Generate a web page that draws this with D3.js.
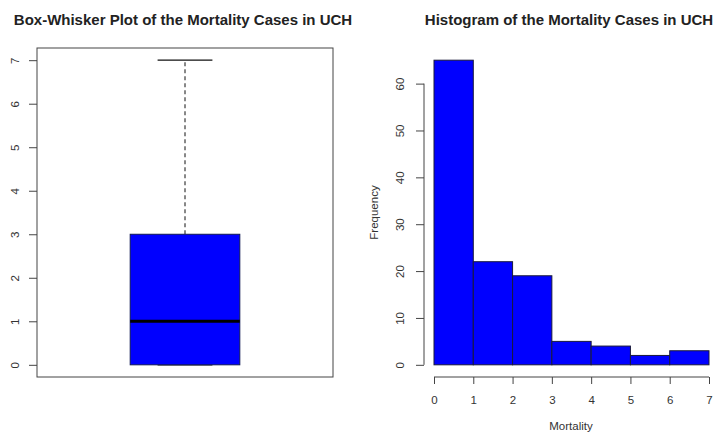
<!DOCTYPE html>
<html>
<head>
<meta charset="utf-8">
<script src="https://cdn.jsdelivr.net/npm/d3@7"></script>
<style>
  html, body { margin: 0; padding: 0; background: #fff; }
  svg { display: block; font-family: "Liberation Sans", Arial, sans-serif; }
</style>
</head>
<body>
<svg id="chart" width="714" height="434"></svg>
<script>
// ---- data ----
const boxTitle = "Box-Whisker Plot of the Mortality Cases in UCH";
const histTitle = "Histogram of the Mortality Cases in UCH";
const boxStatNames = ["min", "q1", "median", "q3", "max"];
const boxStatValues = [0, 0, 1, 3, 7];
const boxYTicks = [0, 1, 2, 3, 4, 5, 6, 7];
const binStarts = [0, 1, 2, 3, 4, 5, 6];
const binEnds = [1, 2, 3, 4, 5, 6, 7];
const binCounts = [65, 22, 19, 5, 4, 2, 3];
const histXTicks = [0, 1, 2, 3, 4, 5, 6, 7];
const histYTicks = [0, 10, 20, 30, 40, 50, 60];
const histXLabel = "Mortality";
const histYLabel = "Frequency";

const svg = d3.select("#chart");
const axisColor = "#444";
const textColor = "#333";
const blue = "#0000ff";
const FONT = "Liberation Sans, Arial, sans-serif";

const stats = {};
boxStatNames.forEach((n, i) => stats[n] = boxStatValues[i]);

// ---- left panel: boxplot ----
const L = { left: 37, right: 333, top: 48, bottom: 377 };
const yBox = d3.scaleLinear().domain([-0.28, 7.28]).range([L.bottom, L.top]);
const xBox = d3.scaleLinear().domain([0.46, 1.54]).range([L.left, L.right]);

svg.append("text")
  .attr("x", 183).attr("y", 25)
  .attr("text-anchor", "middle")
  .attr("font-weight", "bold").attr("font-size", 15)
  .attr("fill", "#222")
  .text(boxTitle);

const gBox = svg.append("g");
// upper whisker (dashed)
gBox.append("line")
  .attr("x1", xBox(1)).attr("x2", xBox(1))
  .attr("y1", yBox(stats.q3)).attr("y2", yBox(stats.max))
  .attr("stroke", "#111").attr("stroke-dasharray", "4,3").attr("stroke-width", 1);
// caps
[stats.min, stats.max].forEach(v => {
  gBox.append("line")
    .attr("x1", xBox(0.9)).attr("x2", xBox(1.1))
    .attr("y1", yBox(v)).attr("y2", yBox(v))
    .attr("stroke", "#111").attr("stroke-width", 1.2);
});
// box
gBox.append("rect")
  .attr("x", xBox(0.8)).attr("width", xBox(1.2) - xBox(0.8))
  .attr("y", yBox(stats.q3)).attr("height", yBox(stats.q1) - yBox(stats.q3))
  .attr("fill", blue).attr("stroke", "#111a55").attr("stroke-width", 1);
// median
gBox.append("line")
  .attr("x1", xBox(0.8)).attr("x2", xBox(1.2))
  .attr("y1", yBox(stats.median)).attr("y2", yBox(stats.median))
  .attr("stroke", "#000").attr("stroke-width", 3);
// frame
svg.append("rect")
  .attr("x", L.left).attr("y", L.top)
  .attr("width", L.right - L.left).attr("height", L.bottom - L.top)
  .attr("fill", "none").attr("stroke", axisColor).attr("stroke-width", 1);

// left y axis
const gLY = svg.append("g")
  .attr("transform", `translate(${L.left},0)`)
  .call(d3.axisLeft(yBox).tickValues(boxYTicks).tickSize(8).tickFormat(d3.format("d")));
gLY.select(".domain").remove();
gLY.selectAll(".tick line").attr("stroke", axisColor);
gLY.selectAll(".tick text")
  .attr("transform", "rotate(-90)")
  .attr("x", 0).attr("y", -18).attr("dy", 0)
  .attr("text-anchor", "middle")
  .attr("font-size", 11.5).attr("fill", textColor)
  .attr("font-family", FONT);

// ---- right panel: histogram ----
const R = { left: 423, right: 720, top: 48, bottom: 377 };
const xH = d3.scaleLinear().domain([-0.28, 7.28]).range([R.left, R.right]);
const yH = d3.scaleLinear().domain([-2.6, 67.6]).range([R.bottom, R.top]);

svg.append("text")
  .attr("x", 569).attr("y", 25)
  .attr("text-anchor", "middle")
  .attr("font-weight", "bold").attr("font-size", 15)
  .attr("fill", "#222")
  .text(histTitle);

svg.append("g").selectAll("rect")
  .data(binCounts)
  .join("rect")
  .attr("x", (d, i) => xH(binStarts[i]))
  .attr("width", (d, i) => xH(binEnds[i]) - xH(binStarts[i]))
  .attr("y", d => yH(d))
  .attr("height", d => yH(0) - yH(d))
  .attr("fill", blue).attr("stroke", "#1a1a3a").attr("stroke-width", 1);

// histogram x axis
const gHX = svg.append("g")
  .attr("transform", `translate(0,${R.bottom})`)
  .call(d3.axisBottom(xH).tickValues(histXTicks).tickSize(7).tickSizeOuter(0).tickFormat(d3.format("d")));
gHX.select(".domain").attr("stroke", axisColor)
  .attr("d", `M${xH(histXTicks[0])},0H${xH(histXTicks[histXTicks.length - 1])}`);
gHX.selectAll(".tick line").attr("stroke", axisColor);
gHX.selectAll(".tick text")
  .attr("y", 27).attr("dy", 0)
  .attr("font-size", 11.5).attr("fill", textColor)
  .attr("font-family", FONT);

// histogram y axis
const gHY = svg.append("g")
  .attr("transform", `translate(${R.left + 1},0)`)
  .call(d3.axisLeft(yH).tickValues(histYTicks).tickSize(8).tickSizeOuter(0).tickFormat(d3.format("d")));
gHY.select(".domain").attr("stroke", axisColor)
  .attr("d", `M0,${yH(histYTicks[0])}V${yH(histYTicks[histYTicks.length - 1])}`);
gHY.selectAll(".tick line").attr("stroke", axisColor);
gHY.selectAll(".tick text")
  .attr("transform", "rotate(-90)")
  .attr("x", 0).attr("y", -20).attr("dy", 0)
  .attr("text-anchor", "middle")
  .attr("font-size", 11.5).attr("fill", textColor)
  .attr("font-family", FONT);

// axis titles
svg.append("text")
  .attr("x", 571).attr("y", 430)
  .attr("text-anchor", "middle")
  .attr("font-size", 11.5).attr("fill", textColor)
  .text(histXLabel);
svg.append("text")
  .attr("transform", `translate(378,${(R.top + R.bottom) / 2}) rotate(-90)`)
  .attr("text-anchor", "middle")
  .attr("font-size", 11.5).attr("fill", textColor)
  .text(histYLabel);
</script>
</body>
</html>
